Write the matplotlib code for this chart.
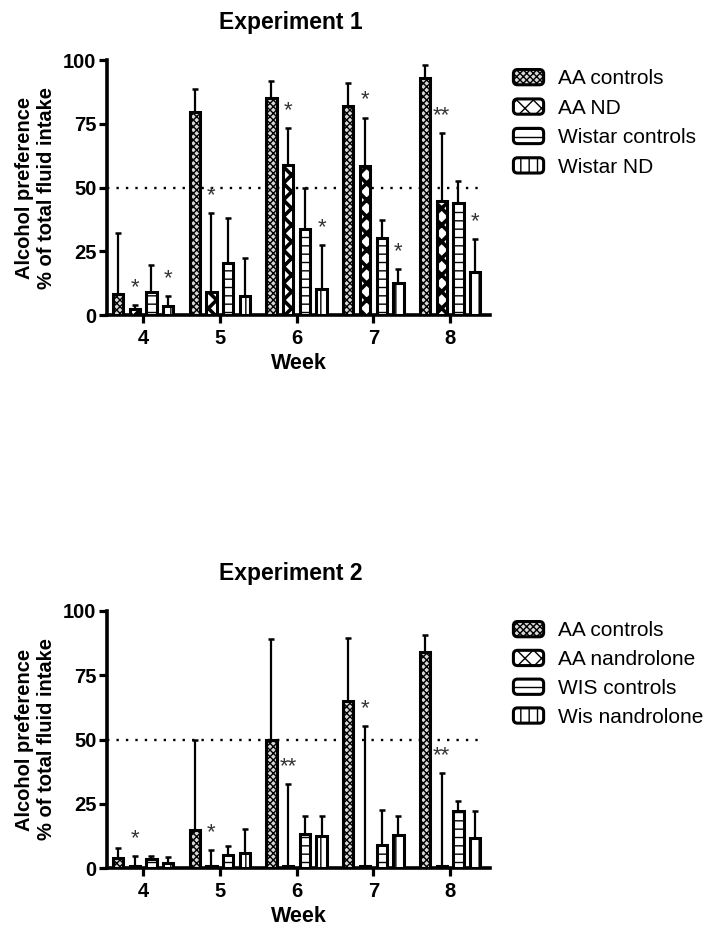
import matplotlib
matplotlib.use("Agg")
import matplotlib.pyplot as plt
from matplotlib.patches import FancyBboxPatch
from matplotlib.legend_handler import HandlerPatch
import numpy as np

plt.rcParams['font.family'] = ['Liberation Sans', 'DejaVu Sans']
plt.rcParams['hatch.linewidth'] = 1.0

# Data
weeks = [4, 5, 6, 7, 8]

# Experiment 1
exp1_labels = ['AA controls', 'AA ND', 'Wistar controls', 'Wistar ND']
exp1_means = [
    [8.2, 79.6, 85.0, 82.0, 92.8],   # AA controls
    [2.2, 9.0, 58.8, 58.6, 44.7],    # AA ND
    [9.0, 20.3, 33.7, 30.2, 43.8],   # Wistar controls
    [3.5, 7.4, 10.2, 12.7, 16.9],    # Wistar ND
]
exp1_err = [
    [23.8, 9.0, 6.8, 9.0, 5.2],
    [1.8, 31.0, 14.6, 18.8, 26.8],
    [10.6, 17.7, 16.0, 7.1, 8.9],
    [4.0, 14.9, 17.3, 5.3, 12.9],
]
exp1_stars = [
    ['', '', '', '', ''],
    ['*', '*', '*', '*', '**'],
    ['', '', '', '', ''],
    ['*', '', '*', '*', '*'],
]

# Experiment 2
exp2_labels = ['AA controls', 'AA nandrolone', 'WIS controls', 'Wis nandrolone']
exp2_means = [
    [4.0, 14.7, 50.0, 64.8, 84.0],
    [0.8, 0.8, 0.8, 0.8, 0.8],
    [3.5, 5.2, 13.4, 9.0, 22.0],
    [2.0, 6.0, 12.6, 13.0, 11.5],
]
exp2_err = [
    [3.9, 35.3, 39.0, 24.7, 6.5],
    [3.8, 6.1, 31.7, 54.5, 36.2],
    [1.3, 3.2, 7.0, 13.4, 4.0],
    [2.2, 9.0, 7.8, 7.4, 10.7],
]
exp2_stars = [
    ['', '', '', '', ''],
    ['*', '*', '**', '*', '**'],
    ['', '', '', '', ''],
    ['', '', '', '', ''],
]

hatches = ['xxxxx', 'xx', '--', '||']
hatch_lw = [1.0, 2.6, 1.0, 1.0]
facecolors = ['#d8d8d8', 'white', 'white', 'white']
offsets = [-0.327, -0.109, 0.109, 0.327]
bar_w = 0.135


def rounded_box(legend, orig_handle, xdescent, ydescent, width, height, fontsize):
    return FancyBboxPatch((-xdescent, -ydescent), width, height,
                          boxstyle='round,pad=0,rounding_size=3')


def draw_panel(ax, title, labels, means, errs, stars, legend_y, spacing):
    x = np.array(weeks, dtype=float)
    handles = []
    for i in range(4):
        b = ax.bar(x + offsets[i], means[i], width=bar_w, color=facecolors[i],
                   edgecolor='black', linewidth=2.2, hatch=hatches[i],
                   zorder=3, label=labels[i])
        for p in b.patches:
            if hasattr(p, 'set_hatch_linewidth'):
                p.set_hatch_linewidth(hatch_lw[i])
        ax.errorbar(x + offsets[i], means[i],
                    yerr=[np.zeros(len(weeks)), errs[i]],
                    fmt='none', ecolor='black', elinewidth=1.6,
                    capsize=2.5, capthick=1.8, zorder=2)
        for j, s in enumerate(stars[i]):
            if s:
                ax.annotate(s, xy=(x[j] + offsets[i], means[i][j] + errs[i][j]),
                            xytext=(0, 5), textcoords='offset points',
                            ha='center', va='bottom', fontsize=16,
                            color='#333333')
        handles.append(b.patches[0])

    ax.axhline(50, xmin=0, xmax=0.985, color='black', linestyle=(0, (1, 3)),
               linewidth=1.7, zorder=1)

    ax.set_xlim(3.53, 8.52)
    ax.set_ylim(0, 100)
    ax.set_yticks([0, 25, 50, 75, 100])
    ax.set_xticks(weeks)
    for side in ['top', 'right']:
        ax.spines[side].set_visible(False)
    for side in ['left', 'bottom']:
        ax.spines[side].set_linewidth(2.6)
    ax.tick_params(axis='both', width=2.3, length=6, labelsize=14.5)
    ax.tick_params(axis='y', pad=1.5)
    ax.tick_params(axis='x', pad=4)
    for lab in ax.get_xticklabels() + ax.get_yticklabels():
        lab.set_fontweight('bold')
    ax.set_xlabel('Week', fontsize=15.5, fontweight='bold', labelpad=4)
    ax.set_ylabel('Alcohol preference\n% of total fluid intake', fontsize=14.5,
                  fontweight='bold', labelpad=5)
    ax.set_title(title, fontsize=16.5, fontweight='bold', pad=22, x=0.48)

    fig.legend(handles=handles, labels=labels, loc='upper left',
               bbox_to_anchor=(503 / 709, legend_y), frameon=False,
               fontsize=15, handlelength=1.45, handleheight=0.75,
               handletextpad=0.7, labelspacing=spacing, borderpad=0,
               handler_map={h: HandlerPatch(patch_func=rounded_box) for h in handles})


fig = plt.figure(figsize=(7.09, 9.27), dpi=100)
ax1 = fig.add_axes([107 / 709, 1 - 315 / 927, 383 / 709, 255 / 927])
ax2 = fig.add_axes([107 / 709, 1 - 868 / 927, 383 / 709, 257 / 927])

draw_panel(ax1, 'Experiment 1', exp1_labels, exp1_means, exp1_err,
           exp1_stars, 1 - 59 / 927, 0.5)
draw_panel(ax2, 'Experiment 2', exp2_labels, exp2_means, exp2_err,
           exp2_stars, 1 - 611 / 927, 0.47)

fig.savefig('out.png', dpi=100)
